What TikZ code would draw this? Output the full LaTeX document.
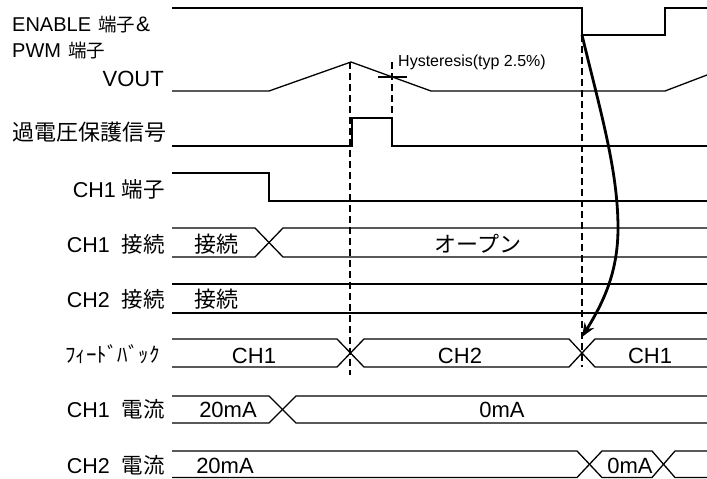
\documentclass[tikz,border=0pt]{standalone}
\usepackage{fontspec}
\setmainfont{Liberation Sans}
\newfontfamily\jp{Noto Sans CJK JP}
\usetikzlibrary{arrows.meta}
\begin{document}
\begin{tikzpicture}[x=1pt,y=-1pt,
  sig/.style={line width=1.3pt, line join=miter},
  guide/.style={line width=2.4pt, dash pattern=on 7pt off 4pt},
  lbl/.style={inner sep=0pt, font=\fontsize{21.5}{22}\selectfont},
  bustxt/.style={inner sep=0pt, anchor=base, font=\fontsize{22}{23}\selectfont}]
\useasboundingbox (0,0) rectangle (707,479);

% ---- left labels ----
\node[lbl, anchor=base west, font=\fontsize{20}{22}\selectfont] (lenable) at (12,31) {ENABLE\hspace{7pt}{\jp\fontsize{18.5}{20}\selectfont 端子}\hspace{1pt}\fontsize{21}{22}\selectfont\&};
\node[lbl, anchor=base west, font=\fontsize{20}{22}\selectfont] (lpwm) at (12,57) {PWM\hspace{7pt}{\jp\fontsize{18.5}{20}\selectfont 端子}};
\node[lbl, anchor=base east, font=\fontsize{22}{23}\selectfont] (lvout) at (164,86) {VOUT};
\node[lbl, anchor=base west, font=\fontsize{22}{23}\selectfont] (lovp) at (12,140) {\jp 過電圧保護信号};
\node[lbl, anchor=base east] (lch1t) at (165,197) {CH1\hspace{6pt}{\jp 端子}};
\node[lbl, anchor=base east] (lch1c) at (165,252) {CH1\hspace{12pt}{\jp 接続}};
\node[lbl, anchor=base east] (lch2c) at (165,307) {CH2\hspace{12pt}{\jp 接続}};
\node[lbl, anchor=base east, font=\fontsize{21}{22}\selectfont] (lfb) at (160,362) {\jp ﾌｨｰﾄﾞﾊﾞｯｸ};
\node[lbl, anchor=base east] (lch1i) at (165,417) {CH1\hspace{12pt}{\jp 電流}};
\node[lbl, anchor=base east] (lch2i) at (165,473) {CH2\hspace{12pt}{\jp 電流}};

% ---- ENABLE & PWM ----
\draw[sig] (172,8) -- (582,8) -- (582,35) -- (665,35) -- (665,8) -- (707,8);

% ---- VOUT ----
\draw[sig] (172,91) -- (269,91) -- (351,62) -- (431,91) -- (665,91) -- (707,75);
\draw[sig] (378,77) -- (407,77);
\node[inner sep=0pt, anchor=base west, font=\fontsize{16}{17}\selectfont] (hys) at (398,66) {Hysteresis(typ 2.5\%)};

% ---- OVP signal ----
\draw[sig] (172,146) -- (352,146) -- (352,118) -- (392,118) -- (392,146) -- (707,146);

% ---- CH1 terminal ----
\draw[sig] (172,173) -- (269,173) -- (269,201) -- (707,201);

% ---- CH1 connection ----
\draw[sig] (172,228) -- (255,228) -- (283,257) -- (707,257);
\draw[sig] (172,257) -- (255,257) -- (283,228) -- (707,228);
\node[bustxt] (t1) at (216,252) {\jp 接続};
\node[bustxt] (t2) at (478,252) {\jp オープン};

% ---- CH2 connection ----
\draw[sig] (172,284) -- (707,284);
\draw[sig] (172,313) -- (707,313);
\node[bustxt] (t3) at (216,307) {\jp 接続};

% ---- Feedback ----
\draw[sig] (172,339) -- (337,339) -- (364,367) -- (569,367) -- (595,339) -- (707,339);
\draw[sig] (172,367) -- (337,367) -- (364,339) -- (569,339) -- (595,367) -- (707,367);
\node[bustxt] (f1) at (254,363) {CH1};
\node[bustxt] (f2) at (460,363) {CH2};
\node[bustxt] (f3) at (650,363) {CH1};

% ---- CH1 current ----
\draw[sig] (172,396) -- (269,396) -- (296,423) -- (707,423);
\draw[sig] (172,423) -- (269,423) -- (296,396) -- (707,396);
\node[bustxt] (c1) at (228,417) {20mA};
\node[bustxt] (c2) at (502,417) {0mA};

% ---- CH2 current ----
\draw[sig] (172,451) -- (577,451) -- (602,477.5) -- (652,477.5) -- (675,451) -- (707,451);
\draw[sig] (172,477.5) -- (577,477.5) -- (602,451) -- (652,451) -- (675,477.5) -- (707,477.5);
\node[bustxt] (d1) at (225,473) {20mA};
\node[bustxt] (d2) at (630,473) {0mA};

% ---- guide lines ----
\draw[guide] (350,62) -- (350,375);
\draw[guide] (392,62) -- (392,118);
\draw[guide] (582,35) -- (582,367);

% ---- causal arrow ----
\coordinate (as) at (582,35);
\coordinate (am) at (618,228);
\coordinate (ae) at (582,337);
\draw[line width=2.8pt, -{Stealth[length=14pt,width=11pt]}]
  (as) .. controls (600,110) and (618,170) .. (am)
       .. controls (618,270) and (605,300) .. (ae);
\end{tikzpicture}
\end{document}
